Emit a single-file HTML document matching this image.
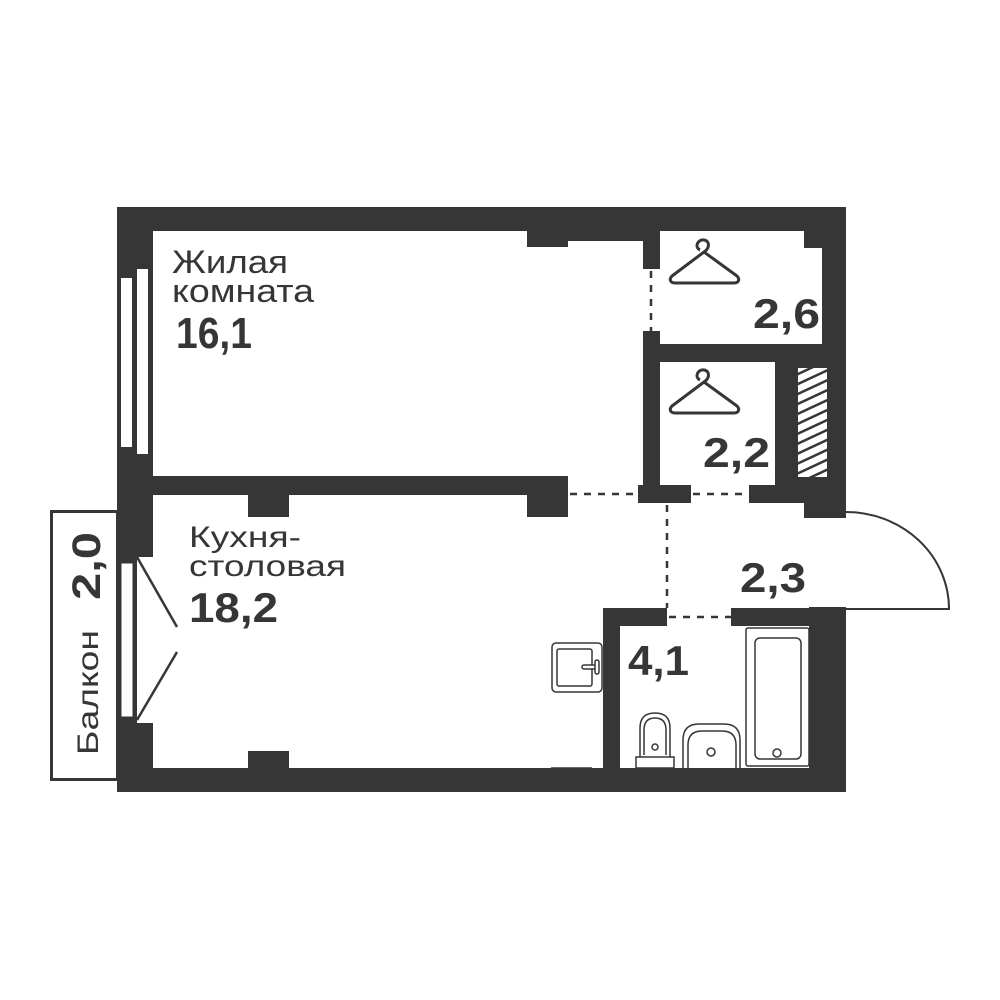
<!DOCTYPE html>
<html><head><meta charset="utf-8"><style>html,body{margin:0;padding:0;background:#fff}svg{display:block}</style></head>
<body>
<svg width="1000" height="1000" viewBox="0 0 1000 1000" xmlns="http://www.w3.org/2000/svg" font-family="Liberation Sans, sans-serif">
<g fill="#363636">
<rect x="117" y="207" width="729" height="24"/>
<rect x="117" y="207" width="36" height="585"/>
<rect x="117" y="768" width="729" height="24"/>
<rect x="527" y="231" width="41" height="16"/>
<rect x="568" y="231" width="75" height="10"/>
<rect x="804" y="231" width="18" height="17"/>
<rect x="822" y="207" width="24" height="311"/>
<rect x="804" y="485" width="42" height="33"/>
<rect x="153" y="476" width="415" height="19"/>
<rect x="248" y="495" width="41" height="22"/>
<rect x="527" y="495" width="41" height="22"/>
<rect x="643" y="231" width="17" height="38"/>
<rect x="643" y="331" width="17" height="162"/>
<rect x="643" y="344" width="203" height="18"/>
<rect x="775" y="362" width="71" height="123"/>
<rect x="638" y="485" width="53" height="18"/>
<rect x="749" y="485" width="97" height="18"/>
<rect x="603" y="608" width="17" height="170"/>
<rect x="603" y="608" width="64" height="18"/>
<rect x="731" y="608" width="115" height="18"/>
<rect x="809" y="607" width="37" height="170"/>
<rect x="248" y="751" width="41" height="17"/>
</g>
<!-- windows -->
<rect x="121" y="278" width="11" height="169" fill="#fff"/>
<rect x="137" y="269" width="11" height="185" fill="#fff"/>
<rect x="137" y="557" width="16" height="166" fill="#fff"/>
<rect x="121" y="563" width="12" height="154" fill="#fff" stroke="#363636" stroke-width="1"/>
<g stroke="#363636" stroke-width="2.5">
<line x1="137" y1="557" x2="177" y2="627"/>
<line x1="177" y1="652" x2="137" y2="720"/>
</g>
<defs><pattern id="h" width="9" height="9" patternUnits="userSpaceOnUse" patternTransform="rotate(-25)"><rect width="9" height="9" fill="#fff"/><rect width="9" height="2.5" fill="#363636"/></pattern></defs>
<rect x="798" y="368" width="29" height="109" fill="url(#h)"/>
<g stroke="#363636" stroke-width="2.5" stroke-dasharray="7,7" fill="none">
<line x1="651" y1="271" x2="651" y2="331"/>
<line x1="570" y1="494" x2="638" y2="494"/>
<line x1="693" y1="494" x2="749" y2="494"/>
<line x1="667" y1="505" x2="667" y2="608"/>
<line x1="669" y1="617" x2="731" y2="617"/>
</g>
<path d="M846 512 A103 97 0 0 1 949 609 L846 609" fill="none" stroke="#363636" stroke-width="2"/>
<rect x="51.5" y="511.5" width="66" height="268" fill="#fff" stroke="#363636" stroke-width="3"/>
<text transform="translate(100,600) rotate(-90)" font-size="40" font-weight="bold" fill="#363636" textLength="68" lengthAdjust="spacingAndGlyphs">2,0</text>
<text transform="translate(98,755) rotate(-90)" font-size="30" fill="#363636" textLength="125" lengthAdjust="spacingAndGlyphs">Балкон</text>
<g fill="none" stroke="#363636" stroke-width="3" stroke-linejoin="round">
<path d="M700 250 c-6-3-2-11 4-10 c6 1 6 8 0 12 L672 276 c-3 3-2 7 3 7 L734 283 c5 0 6-4 3-7 L704 252"/>
<path d="M700 380 c-6-3-2-11 4-10 c6 1 6 8 0 12 L672 406 c-3 3-2 7 3 7 L734 413 c5 0 6-4 3-7 L704 382"/>
</g>
<g fill="none" stroke="#363636" stroke-width="1.5">
<rect x="552" y="643" width="50" height="49" rx="4"/>
<rect x="557" y="649" width="35" height="37" rx="2"/>
<rect x="582" y="665" width="14" height="4" rx="2" fill="#fff"/>
<rect x="595" y="660" width="4" height="14" rx="2" fill="#fff"/>
<rect x="746" y="628" width="63" height="138" rx="2"/>
<rect x="755" y="638" width="46" height="121" rx="5"/>
<circle cx="777" cy="753" r="4"/>
<path d="M683 768 V740 q0 -16 16 -16 h25 q16 0 16 16 V768"/>
<path d="M688 768 V745 q0 -14 14 -14 h20 q14 0 14 14 V768"/>
<circle cx="711" cy="752" r="4"/>
<rect x="636" y="757" width="38" height="11"/>
<path d="M640 757 V728 q0 -15 15 -15 q15 0 15 15 V757"/>
<path d="M644 755 V730 q0 -12 11 -12 q11 0 11 12 V755"/>
<circle cx="655" cy="747" r="3"/>
<line x1="551" y1="768" x2="592" y2="768"/>
</g>
<g fill="#363636">
<text x="172" y="273" font-size="32" textLength="116" lengthAdjust="spacingAndGlyphs">Жилая</text>
<text x="172" y="302" font-size="32" textLength="142" lengthAdjust="spacingAndGlyphs">комната</text>
<text x="176" y="348" font-size="44" font-weight="bold" textLength="76" lengthAdjust="spacingAndGlyphs">16,1</text>
<text x="189" y="547" font-size="30" textLength="112" lengthAdjust="spacingAndGlyphs">Кухня-</text>
<text x="189" y="576" font-size="30" textLength="157" lengthAdjust="spacingAndGlyphs">столовая</text>
<text x="189" y="622" font-size="42" font-weight="bold" textLength="89" lengthAdjust="spacingAndGlyphs">18,2</text>
<text x="753" y="328" font-size="42" font-weight="bold" textLength="67" lengthAdjust="spacingAndGlyphs">2,6</text>
<text x="703" y="467" font-size="42" font-weight="bold" textLength="67" lengthAdjust="spacingAndGlyphs">2,2</text>
<text x="740" y="592" font-size="42" font-weight="bold" textLength="66" lengthAdjust="spacingAndGlyphs">2,3</text>
<text x="628" y="675" font-size="42" font-weight="bold" textLength="61" lengthAdjust="spacingAndGlyphs">4,1</text>
</g>
</svg>
</body></html>
